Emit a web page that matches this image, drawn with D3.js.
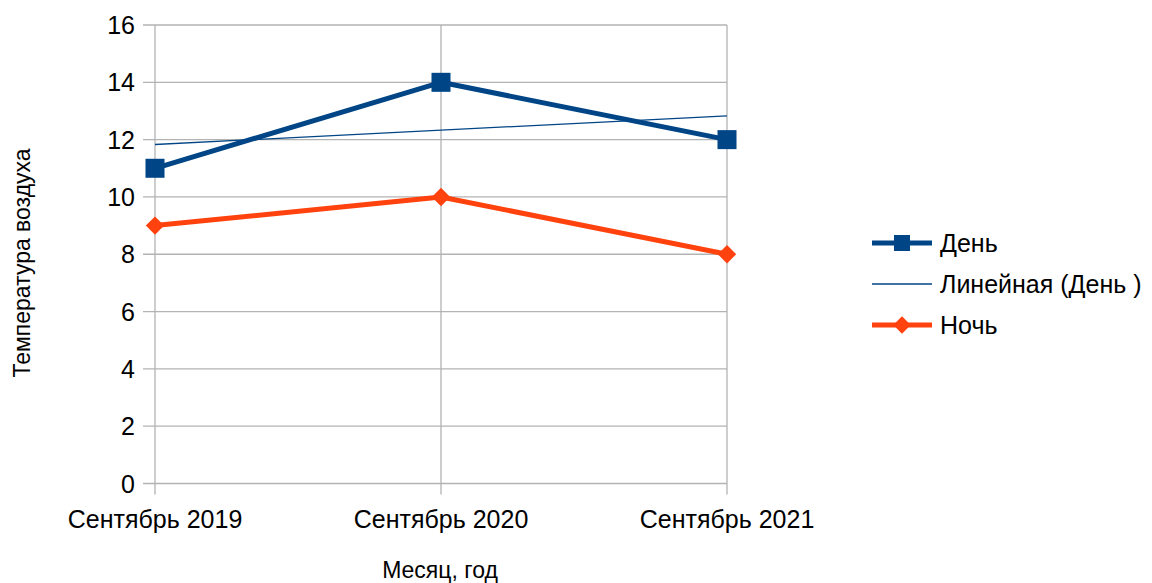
<!DOCTYPE html>
<html><head><meta charset="utf-8">
<script src="https://cdn.jsdelivr.net/npm/d3@7"></script>
<style>body{margin:0;background:#fff}text{font-family:"Liberation Sans",Arial,sans-serif}</style>
</head><body><svg id="c" width="1152" height="583"></svg>
<script>
const categories = ["Сентябрь 2019", "Сентябрь 2020", "Сентябрь 2021"];
const dayValues = [11, 14, 12];
const nightValues = [9, 10, 8];
const trendValues = [11.83, 12.83];
const yTicks = [0, 2, 4, 6, 8, 10, 12, 14, 16];
const legendLabels = ["День", "Линейная (День )", "Ночь"];

const blue = "#004586", orange = "#ff420e", grid = "#b3b3b3";
const svg = d3.select("#c");
const L = 155, R = 727, T = 25, B = 483.5;
const x = d3.scalePoint().domain(categories).range([L, R]);
const y = d3.scaleLinear().domain([0, 16]).range([B, T]);

// grid
svg.append("g").selectAll("line").data(yTicks).join("line")
  .attr("x1", L - 12).attr("x2", R).attr("y1", d => y(d)).attr("y2", d => y(d))
  .attr("stroke", grid).attr("stroke-width", 1.3);
svg.append("g").selectAll("line").data(categories).join("line")
  .attr("x1", d => x(d)).attr("x2", d => x(d)).attr("y1", T).attr("y2", B + 11)
  .attr("stroke", grid).attr("stroke-width", 1.3);

// y labels
svg.append("g").selectAll("text").data(yTicks).join("text")
  .attr("x", 135).attr("y", d => y(d)).attr("dy", "0.36em").attr("text-anchor", "end")
  .attr("font-size", 25).attr("fill", "#000").text(d => d);
// x labels
svg.append("g").selectAll("text").data(categories).join("text")
  .attr("x", d => x(d)).attr("y", 528).attr("text-anchor", "middle")
  .attr("font-size", 25).attr("fill", "#000").text(d => d);

// axis titles
svg.append("text").attr("x", 440).attr("y", 578).attr("text-anchor", "middle")
  .attr("font-size", 23).text("Месяц, год");
svg.append("text").attr("transform", "translate(30,263) rotate(-90)").attr("text-anchor", "middle")
  .attr("font-size", 23).text("Температура воздуха");

const line = d3.line().x((d, i) => x(categories[i])).y(d => y(d));

// trend
svg.append("path").datum(trendValues)
  .attr("d", d3.line().x((d, i) => x(categories[i * 2])).y(d => y(d)))
  .attr("fill", "none").attr("stroke", blue).attr("stroke-width", 1.3);

// night
svg.append("path").datum(nightValues).attr("d", line)
  .attr("fill", "none").attr("stroke", orange).attr("stroke-width", 5).attr("stroke-linejoin", "round");
svg.append("g").selectAll("path").data(nightValues).join("path")
  .attr("d", d3.symbol(d3.symbolSquare, 169)())
  .attr("transform", (d, i) => `translate(${x(categories[i])},${y(d)}) rotate(45)`)
  .attr("fill", orange);

// day
svg.append("path").datum(dayValues).attr("d", line)
  .attr("fill", "none").attr("stroke", blue).attr("stroke-width", 5).attr("stroke-linejoin", "round");
svg.append("g").selectAll("rect").data(dayValues).join("rect")
  .attr("x", (d, i) => x(categories[i]) - 9.5).attr("y", d => y(d) - 9.5)
  .attr("width", 19).attr("height", 19).attr("fill", blue);

// legend
const ly = [243, 284, 325];
const lg = svg.append("g");
lg.append("line").attr("x1", 872).attr("x2", 932).attr("y1", ly[0]).attr("y2", ly[0]).attr("stroke", blue).attr("stroke-width", 5);
lg.append("rect").attr("x", 894).attr("y", ly[0] - 8).attr("width", 16).attr("height", 16).attr("fill", blue);
lg.append("line").attr("x1", 872).attr("x2", 932).attr("y1", ly[1]).attr("y2", ly[1]).attr("stroke", blue).attr("stroke-width", 1.3);
lg.append("line").attr("x1", 872).attr("x2", 932).attr("y1", ly[2]).attr("y2", ly[2]).attr("stroke", orange).attr("stroke-width", 5);
lg.append("path").attr("d", d3.symbol(d3.symbolSquare, 150)()).attr("transform", `translate(902,${ly[2]}) rotate(45)`).attr("fill", orange);
lg.selectAll("text").data(legendLabels).join("text")
  .attr("x", 940).attr("y", (d, i) => ly[i]).attr("dy", "0.36em")
  .attr("font-size", 25).text(d => d);
</script></body></html>
